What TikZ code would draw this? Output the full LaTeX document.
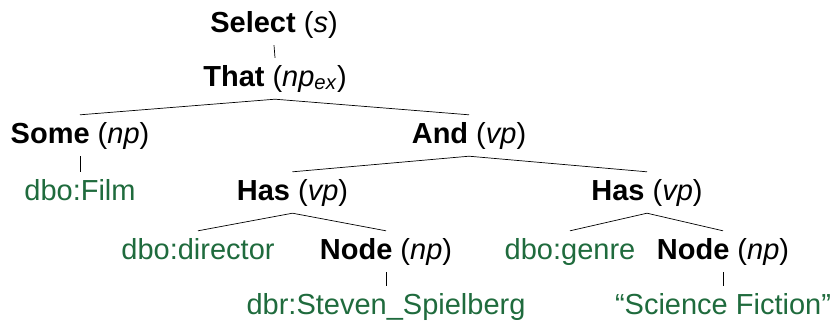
\documentclass[tikz,border=0pt]{standalone}
\usepackage{fontspec}
\setmainfont{Liberation Sans}
\definecolor{rdfgreen}{RGB}{31,107,61}
\begin{document}
\begin{tikzpicture}[x=1pt,y=-1pt,
  tn/.style={anchor=base,inner xsep=0pt,inner ysep=7pt,text height=21pt,text depth=6pt,font=\fontsize{29}{34}\selectfont},
  lf/.style={tn,text=rdfgreen},
  edge/.style={draw=black,line width=0.7pt}]
\useasboundingbox (0,0) rectangle (833,322);
\node[tn] (sel) at (274,32) {\textbf{Select} (\textit{s})};
\node[tn] (that) at (275,86) {\textbf{That} (\textit{np}\textsubscript{\textit{ex}})};
\node[tn] (some) at (80,143) {\textbf{Some} (\textit{np})};
\node[tn] (and) at (469,143) {\textbf{And} (\textit{vp})};
\node[lf] (film) at (80,200) {dbo:Film};
\node[tn] (hasl) at (292.5,200) {\textbf{Has} (\textit{vp})};
\node[tn] (hasr) at (647,200) {\textbf{Has} (\textit{vp})};
\node[lf] (dir) at (198,259) {dbo:director};
\node[tn] (nodel) at (386,259) {\textbf{Node} (\textit{np})};
\node[lf] (genre) at (570,259) {dbo:genre};
\node[tn] (noder) at (723,259) {\textbf{Node} (\textit{np})};
\node[lf] (dbr) at (386,314) {dbr:Steven\_Spielberg};
\node[lf] (sf) at (723,314) {“Science Fiction”};
\draw[edge] (sel.south) -- (that.north);
\draw[edge] (that.south) -- (some.north);
\draw[edge] (that.south) -- (and.north);
\draw[edge] (some.south) -- (film.north);
\draw[edge] (and.south) -- (hasl.north);
\draw[edge] (and.south) -- (hasr.north);
\draw[edge] (hasl.south) -- (dir.north);
\draw[edge] (hasl.south) -- (nodel.north);
\draw[edge] (hasr.south) -- (genre.north);
\draw[edge] (hasr.south) -- (noder.north);
\draw[edge] (nodel.south) -- (dbr.north);
\draw[edge] (noder.south) -- (sf.north);
\end{tikzpicture}
\end{document}
